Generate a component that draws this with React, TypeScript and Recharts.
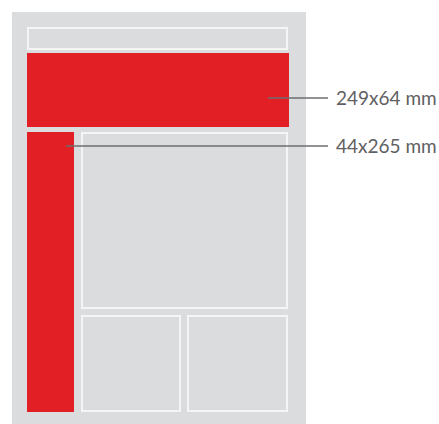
import React from 'react';
import { ComposedChart, XAxis, YAxis, ReferenceArea, ReferenceLine } from 'recharts';

// layout in page units (0..439 wide, 0..424 tall, y downwards)
const sheet = { x1: 12, x2: 306, y1: 12, y2: 424 };

const adBoxes = [
  { name: 'banner', x1: 27, x2: 289, y1: 53, y2: 127 },
  { name: 'column', x1: 27, x2: 74, y1: 132, y2: 412 },
];

const pageBoxes = [
  { name: 'header', x1: 28, x2: 287, y1: 28, y2: 49 },
  { name: 'main', x1: 82, x2: 287, y1: 133, y2: 308 },
  { name: 'bottomLeft', x1: 82, x2: 180, y1: 316, y2: 411 },
  { name: 'bottomRight', x1: 188, x2: 287, y1: 316, y2: 411 },
];

const sizeLabels = ['249x64 mm', '44x265 mm'];
const leaders = [
  { x1: 268, x2: 328, y: 98 },
  { x1: 66, x2: 328, y: 146 },
];

const RED = '#e31f26';
const GREY = '#dbdcde';

export default function App() {
  return (
    <div style={{ position: 'absolute', left: 0, top: 0 }}>
      <ComposedChart width={439} height={424} margin={{ top: 0, right: 0, bottom: 0, left: 0 }} data={[]}>
        <XAxis type="number" dataKey="x" domain={[0, 439]} hide allowDataOverflow />
        <YAxis type="number" domain={[0, 424]} reversed hide allowDataOverflow />
        <ReferenceArea x1={sheet.x1} x2={sheet.x2} y1={sheet.y1} y2={sheet.y2} fill={GREY} fillOpacity={1} stroke="none" />
        {pageBoxes.map((b) => (
          <ReferenceArea key={b.name} x1={b.x1} x2={b.x2} y1={b.y1} y2={b.y2} fill={GREY} fillOpacity={1} stroke="#f5f5f5" strokeWidth={2} />
        ))}
        {adBoxes.map((b) => (
          <ReferenceArea key={b.name} x1={b.x1} x2={b.x2} y1={b.y1} y2={b.y2} fill={RED} fillOpacity={1} stroke="none" />
        ))}
        {leaders.map((l, i) => (
          <ReferenceLine
            key={i}
            segment={[{ x: l.x1, y: l.y }, { x: l.x2, y: l.y }]}
            stroke="#6d6e70"
            strokeWidth={1.5}
            label={{
              value: sizeLabels[i],
              position: 'right',
              offset: 8,
              fill: '#5f6062',
              fontSize: 19,
              fontFamily: 'Lato',
            }}
          />
        ))}
      </ComposedChart>
    </div>
  );
}
